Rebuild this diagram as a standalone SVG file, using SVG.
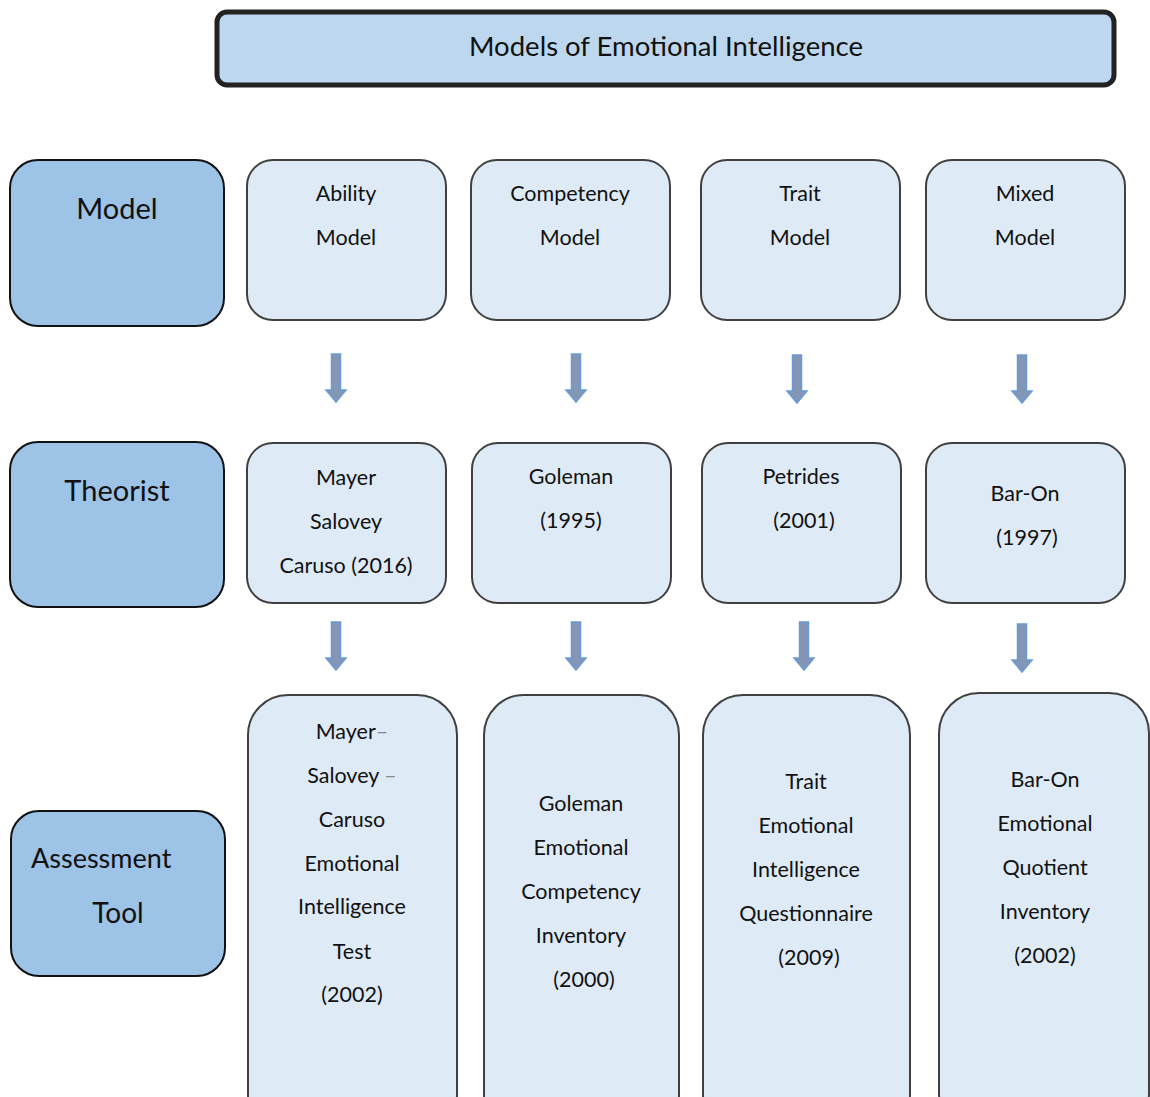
<svg xmlns="http://www.w3.org/2000/svg" width="1150" height="1097" viewBox="0 0 1150 1097">
<defs>
<style>
text{font-family:Lato,"Open Sans","Liberation Sans",sans-serif;fill:#111;text-anchor:middle}
.t{font-size:21.5px}
.h{font-size:29px}
.title{fill:#bdd7ee;stroke:#222;stroke-width:5}
.lab{fill:#9dc3e6;stroke:#111;stroke-width:2}
.box{fill:#deeaf6;stroke:#404040;stroke-width:2}
.arr{fill:#8496b5;stroke:#6a9ad4;stroke-width:1.5}
.g{fill:#888}
</style>
<path id="ar" d="M-4.5,0 H4.5 V36 H10 L0,48 L-10,36 H-4.5 Z"/>
</defs>
<rect width="1150" height="1097" fill="#fff"/>
<g id="title">
<rect class="title" x="217" y="12" width="897" height="73" rx="10"/>
<text x="666" y="56" style="font-size:27.5px">Models of Emotional Intelligence</text>
</g>
<g id="lab-model"><rect class="lab" x="10" y="160" width="214" height="166" rx="28"/><text class="h" x="117" y="219">Model</text></g>
<g id="lab-theorist"><rect class="lab" x="10" y="442" width="214" height="165" rx="28"/><text class="h" x="117" y="501">Theorist</text></g>
<g id="lab-tool"><rect class="lab" x="11" y="811" width="214" height="165" rx="28"/><text class="h" x="31" y="868" style="text-anchor:start;font-size:27px">Assessment</text><text class="h" x="118" y="923" style="font-size:28px">Tool</text></g>

<g id="ability"><rect class="box" x="247" y="160" width="199" height="160" rx="26"/><text class="t" x="346" y="201">Ability</text><text class="t" x="346" y="245">Model</text></g>
<g id="competency"><rect class="box" x="471" y="160" width="199" height="160" rx="26"/><text class="t" x="570" y="201">Competency</text><text class="t" x="570" y="245">Model</text></g>
<g id="trait"><rect class="box" x="701" y="160" width="199" height="160" rx="26"/><text class="t" x="800" y="201">Trait</text><text class="t" x="800" y="245">Model</text></g>
<g id="mixed"><rect class="box" x="926" y="160" width="199" height="160" rx="26"/><text class="t" x="1025" y="201">Mixed</text><text class="t" x="1025" y="245">Model</text></g>

<g id="mayer"><rect class="box" x="247" y="443" width="199" height="160" rx="26"/><text class="t" x="346" y="485">Mayer</text><text class="t" x="346" y="529">Salovey</text><text class="t" x="346" y="573">Caruso (2016)</text></g>
<g id="goleman"><rect class="box" x="472" y="443" width="199" height="160" rx="26"/><text class="t" x="571" y="484">Goleman</text><text class="t" x="571" y="528">(1995)</text></g>
<g id="petrides"><rect class="box" x="702" y="443" width="199" height="160" rx="26"/><text class="t" x="801" y="484">Petrides</text><text class="t" x="804" y="528">(2001)</text></g>
<g id="baron"><rect class="box" x="926" y="443" width="199" height="160" rx="26"/><text class="t" x="1025" y="501">Bar-On</text><text class="t" x="1027" y="545">(1997)</text></g>

<g id="msceit"><rect class="box" x="248" y="695" width="209" height="440" rx="40"/>
<text class="t" x="352" y="739">Mayer<tspan class="g">–</tspan></text>
<text class="t" x="352" y="783">Salovey <tspan class="g">–</tspan></text>
<text class="t" x="352" y="827">Caruso</text>
<text class="t" x="352" y="871">Emotional</text>
<text class="t" x="352" y="914">Intelligence</text>
<text class="t" x="352" y="959">Test</text>
<text class="t" x="352" y="1002">(2002)</text></g>
<g id="geci"><rect class="box" x="484" y="695" width="195" height="440" rx="40"/>
<text class="t" x="581" y="811">Goleman</text>
<text class="t" x="581" y="855">Emotional</text>
<text class="t" x="581" y="899">Competency</text>
<text class="t" x="581" y="943">Inventory</text>
<text class="t" x="584" y="987">(2000)</text></g>
<g id="teique"><rect class="box" x="703" y="695" width="207" height="440" rx="40"/>
<text class="t" x="806" y="789">Trait</text>
<text class="t" x="806" y="833">Emotional</text>
<text class="t" x="806" y="877">Intelligence</text>
<text class="t" x="806" y="921">Questionnaire</text>
<text class="t" x="809" y="965">(2009)</text></g>
<g id="eqi"><rect class="box" x="939" y="693" width="210" height="440" rx="40"/>
<text class="t" x="1045" y="787">Bar-On</text>
<text class="t" x="1045" y="831">Emotional</text>
<text class="t" x="1045" y="875">Quotient</text>
<text class="t" x="1045" y="919">Inventory</text>
<text class="t" x="1045" y="963">(2002)</text></g>

<g id="connectors">
<use href="#ar" class="arr" x="336" y="354"/>
<use href="#ar" class="arr" x="576" y="354"/>
<use href="#ar" class="arr" x="797" y="355"/>
<use href="#ar" class="arr" x="1022" y="355"/>
<use href="#ar" class="arr" x="336" y="622"/>
<use href="#ar" class="arr" x="576" y="622"/>
<use href="#ar" class="arr" x="804" y="622"/>
<use href="#ar" class="arr" x="1022" y="624"/>
</g>
</svg>
